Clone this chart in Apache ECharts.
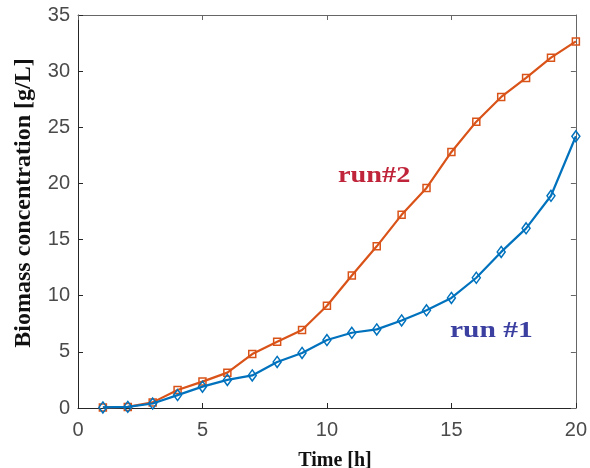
<!DOCTYPE html>
<html><head><meta charset="utf-8">
<script src="https://cdn.jsdelivr.net/npm/echarts@6/dist/echarts.min.js"></script>
<style>html,body{margin:0;padding:0;background:#fff}#c{width:590px;height:468px}</style>
</head><body><div id="c"></div>
<script>
const timeH = [1,2,3,4,5,6,7,8,9,10,11,12,13,14,15,16,17,18,19,20];
const run1 = [0.05,0.1,0.4,1.15,1.9,2.5,2.9,4.1,4.9,6.05,6.7,7.0,7.8,8.7,9.8,11.6,13.9,16.0,18.9,24.2];
const run2 = [0.05,0.1,0.5,1.6,2.35,3.15,4.8,5.9,6.95,9.1,11.8,14.4,17.2,19.6,22.8,25.5,27.7,29.4,31.2,32.65];
const xTicks = [0,5,10,15,20];
const yTicks = [0,5,10,15,20,25,30,35];
const xName = 'Time [h]';
const yName = 'Biomass concentration [g/L]';

const pair = (xs, ys) => xs.map((x,i)=>[x,ys[i]]);
const chart = echarts.init(document.getElementById('c'));
const tickLabel = {color:'#4a4a4a', fontFamily:'Liberation Sans, Arial', fontSize:20};
const serif = '"Liberation Serif", "Times New Roman", serif';
chart.setOption({
  animation:false,
  grid:{left:78, right:14, top:15, bottom:60},
  xAxis:[{
    type:'value', min:xTicks[0], max:xTicks[xTicks.length-1], interval:5,
    axisLine:{show:true, onZero:false, lineStyle:{color:'#262626', width:1}},
    axisTick:{show:true, inside:true, length:5, lineStyle:{color:'#262626'}},
    axisLabel:Object.assign({margin:12}, tickLabel), splitLine:{show:false}
  },{
    type:'value', position:'top', min:0, max:20, interval:5,
    axisLine:{show:true, onZero:false, lineStyle:{color:'#666', width:1}},
    axisTick:{show:true, inside:true, length:5, lineStyle:{color:'#666'}},
    axisLabel:{show:false}, splitLine:{show:false}
  }],
  yAxis:[{
    type:'value', min:yTicks[0], max:yTicks[yTicks.length-1], interval:5,
    axisLine:{show:true, onZero:false, lineStyle:{color:'#262626', width:1}},
    axisTick:{show:true, inside:true, length:5, lineStyle:{color:'#262626'}},
    axisLabel:Object.assign({margin:8}, tickLabel), splitLine:{show:false}
  },{
    type:'value', position:'right', min:0, max:35, interval:5,
    axisLine:{show:true, onZero:false, lineStyle:{color:'#666', width:1}},
    axisTick:{show:true, inside:true, length:5, lineStyle:{color:'#666'}},
    axisLabel:{show:false}, splitLine:{show:false}
  }],
  series:[{
    name:'run#2', type:'line', data:pair(timeH, run2),
    lineStyle:{color:'#D95319', width:2.2}, symbol:'rect', symbolSize:7,
    itemStyle:{color:'rgba(0,0,0,0)', borderColor:'#D95319', borderWidth:1.5}, z:2
  },{
    name:'run #1', type:'line', data:pair(timeH, run1),
    lineStyle:{color:'#0072BD', width:2.2}, symbol:'diamond', symbolSize:[8,11],
    itemStyle:{color:'rgba(0,0,0,0)', borderColor:'#0072BD', borderWidth:1.5}, z:3
  }],
  graphic:[
    {type:'text', x:338, y:176, scaleX:1.18, style:{text:'run#2', fill:'#C0243A', font:'bold 24px ' + serif, verticalAlign:'middle'}},
    {type:'text', x:450, y:331, scaleX:1.23, style:{text:'run #1', fill:'#3B3FA0', font:'bold 24px ' + serif, verticalAlign:'middle'}},
    {type:'text', x:335, y:451, style:{text:xName, fill:'#111', font:'bold 20px ' + serif, align:'center', verticalAlign:'top'}},
    {type:'text', x:24, y:203, rotation:Math.PI/2, style:{text:yName, fill:'#111', font:'bold 24px ' + serif, align:'center', verticalAlign:'middle'}}
  ]
});
</script></body></html>
